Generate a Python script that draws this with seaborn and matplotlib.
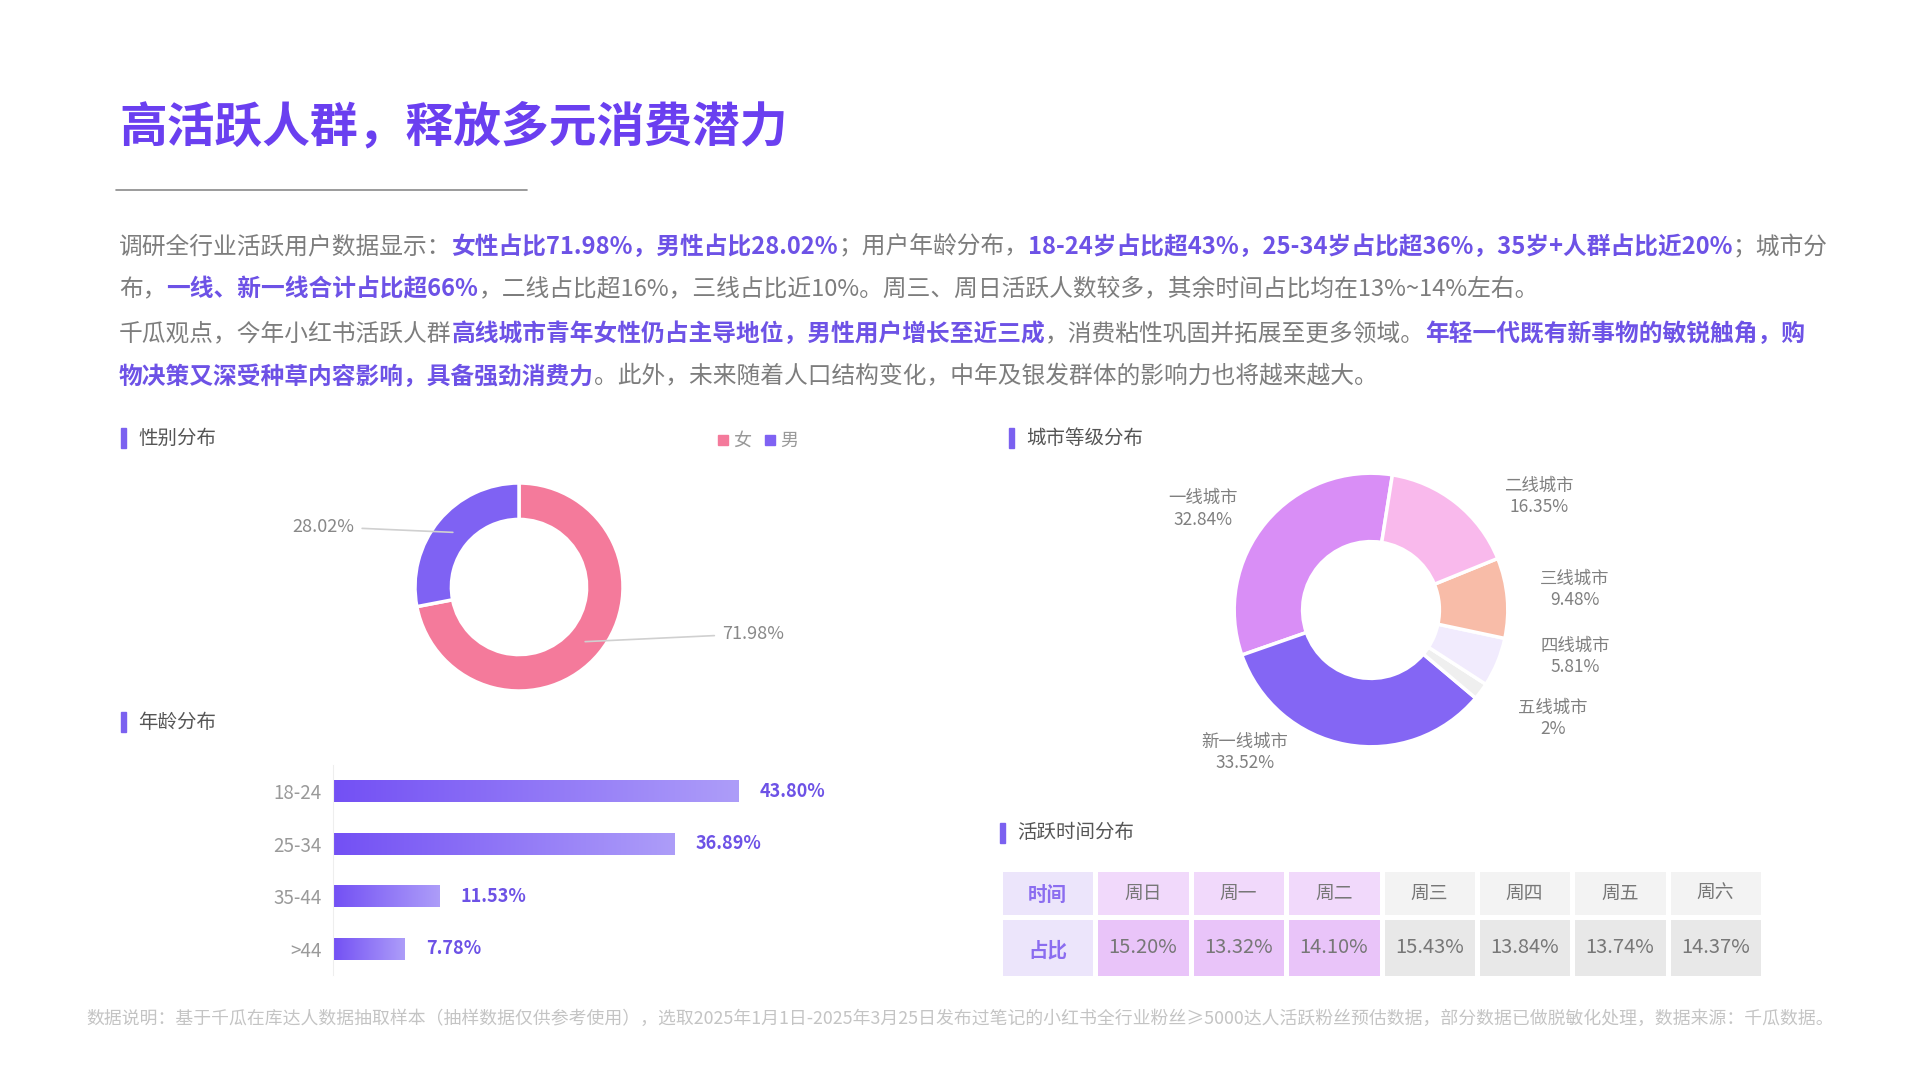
import numpy as np
import matplotlib
matplotlib.use("Agg")
import matplotlib.pyplot as plt
import seaborn as sns
from matplotlib.colors import ListedColormap, LinearSegmentedColormap
from matplotlib.lines import Line2D
from matplotlib.patches import Rectangle

# ---- data ----
gender_labels = ["女", "男"]
gender_values = [71.98, 28.02]

age_groups = ["18-24", "25-34", "35-44", ">44"]
age_values = [43.80, 36.89, 11.53, 7.78]

city_labels = ["一线城市", "新一线城市", "五线城市", "四线城市", "三线城市", "二线城市"]
city_values = [32.84, 33.52, 2, 5.81, 9.48, 16.35]

days = ["周日", "周一", "周二", "周三", "周四", "周五", "周六"]
day_values = [15.20, 13.32, 14.10, 15.43, 13.84, 13.74, 14.37]

# ---- style ----
sns.set_style("white")
plt.rcParams["font.family"] = ["Noto Sans CJK SC", "DejaVu Sans"]

PURPLE = "#6d52e6"
TITLE_PURPLE = "#6a3ff0"
GRAY = "#7d7d7d"

W, H = 1920, 1080
fig = plt.figure(figsize=(19.2, 10.8), dpi=100)
fig.patch.set_facecolor("white")
renderer = fig.canvas.get_renderer()


def fx(x):
    return x / W


def fy(y):
    return 1 - y / H


def add_ax(x0, y0, w, h):
    return fig.add_axes([x0 / W, 1 - (y0 + h) / H, w / W, h / H])


def text_width(s, size, weight="normal"):
    t = fig.text(0, 0, s, fontsize=size, fontweight=weight)
    w = t.get_window_extent(renderer).width
    t.remove()
    return w


def fit_size(s, width, weight="normal"):
    return 20 * width / text_width(s, 20, weight)


HL_WEIGHT = "bold"
TXT_WEIGHT = "normal"


def rich_line(x, y, segs, size):
    for txt, hl in segs:
        t = fig.text(fx(x), fy(y), txt, fontsize=size, va="center", ha="left",
                     color=PURPLE if hl else GRAY,
                     fontweight=HL_WEIGHT if hl else TXT_WEIGHT)
        x += t.get_window_extent(renderer).width


def section(x, y, label):
    fig.patches.append(Rectangle((fx(x), fy(y + 10)), 5 / W, 20 / H,
                                 transform=fig.transFigure, color="#7b61f0"))
    fig.text(fx(x + 17), fy(y), label, fontsize=14, color="#555555", va="center")


# ---- title ----
title = "高活跃人群，释放多元消费潜力"
fig.text(fx(119), fy(127), title, fontsize=fit_size(title, 668, "heavy"),
         fontweight="heavy", color=TITLE_PURPLE, va="center")
fig.add_artist(Line2D([fx(116), fx(527)], [fy(190), fy(190)], color="#8a8a8a", lw=1.2))

# ---- paragraph ----
lines = [
    [("调研全行业活跃用户数据显示：", False), ("女性占比71.98%，男性占比28.02%", True),
     ("；用户年龄分布，", False), ("18-24岁占比超43%，25-34岁占比超36%，35岁+人群占比近20%", True),
     ("；城市分", False)],
    [("布，", False), ("一线、新一线合计占比超66%", True),
     ("，二线占比超16%，三线占比近10%。周三、周日活跃人数较多，其余时间占比均在13%~14%左右。", False)],
    [("千瓜观点，今年小红书活跃人群", False), ("高线城市青年女性仍占主导地位，男性用户增长至近三成", True),
     ("，消费粘性巩固并拓展至更多领域。", False), ("年轻一代既有新事物的敏锐触角，购", True)],
    [("物决策又深受种草内容影响，具备强劲消费力", True),
     ("。此外，未来随着人口结构变化，中年及银发群体的影响力也将越来越大。", False)],
]
base = sum(text_width(t, 20, HL_WEIGHT if h else TXT_WEIGHT) for t, h in lines[0])
psize = 20 * 1706 / base
for ln, y in zip(lines, [247, 290, 334, 377]):
    rich_line(119, y, ln, psize)

# ---- section headers ----
section(121, 438, "性别分布")
section(121, 722, "年龄分布")
section(1009, 438, "城市等级分布")
section(1000, 833, "活跃时间分布")

# ---- gender donut ----
ax_g = add_ax(519 - 130, 587 - 130, 260, 260)
g_colors = ["#f47a9b", "#7f62f3"]
wedges, _ = ax_g.pie(gender_values, colors=g_colors, startangle=90, counterclock=False,
                     wedgeprops=dict(width=0.35, edgecolor="white", linewidth=2.5))
ax_g.set_xlim(-1.25, 1.25)
ax_g.set_ylim(-1.25, 1.25)
for w, v, (tx, ty, ha) in zip(wedges, gender_values, [(1.95, -0.45, "left"), (-1.58, 0.58, "right")]):
    ang = np.deg2rad((w.theta1 + w.theta2) / 2)
    ax_g.annotate(f"{v:.2f}%", xy=(0.825 * np.cos(ang), 0.825 * np.sin(ang)), xytext=(tx, ty),
                  ha=ha, va="center", fontsize=13, color="#888888",
                  arrowprops=dict(arrowstyle="-", color="#d0d0d0", lw=1.2, shrinkA=3, shrinkB=0))
handles = [Line2D([], [], marker="s", ls="", color=c, markersize=7) for c in g_colors]
fig.legend(handles, gender_labels, loc="center", bbox_to_anchor=(fx(757), fy(441)), ncol=2,
           frameon=False, fontsize=13, labelcolor="#999999", handletextpad=0.2,
           columnspacing=0.6, handlelength=0.8)

# ---- city donut ----
ax_c = add_ax(1371 - 171, 610 - 171, 342, 342)
c_colors = ["#d98ef6", "#8466f4", "#efefef", "#f1ebfd", "#f8bca8", "#f9b9ec"]
ax_c.pie(city_values, colors=c_colors, startangle=81, counterclock=True,
         wedgeprops=dict(width=0.5, edgecolor="white", linewidth=2.5))
ax_c.set_xlim(-1.25, 1.25)
ax_c.set_ylim(-1.25, 1.25)
label_pos = [(-1.23, 0.74), (-0.92, -1.04), (1.33, -0.79), (1.49, -0.34), (1.49, 0.15), (1.23, 0.83)]
for name, v, (lx, ly) in zip(city_labels, city_values, label_pos):
    ax_c.text(lx, ly, f"{name}\n{v:g}%", ha="center", va="center", fontsize=12.5,
              color="#808080", linespacing=1.25)

# ---- age bars ----
ax_a = add_ax(333, 765, 555, 210)
sns.barplot(x=age_values, y=age_groups, orient="h", ax=ax_a, width=0.42, color="#7b5cf5")
grad = np.linspace(0, 1, 256).reshape(1, -1)
bar_cmap = LinearSegmentedColormap.from_list("bar", ["#7350f4", "#ad9df9"])
for p in list(ax_a.patches):
    x0, y0, bw, bh = p.get_x(), p.get_y(), p.get_width(), p.get_height()
    im = ax_a.imshow(grad, cmap=bar_cmap, extent=[x0, x0 + bw, y0 + bh, y0],
                     aspect="auto", zorder=2, interpolation="bicubic")
    im.set_clip_path(p)
    p.set_facecolor("none")
    p.set_edgecolor("none")
for i, v in enumerate(age_values):
    ax_a.text(v + 2.3, i, f"{v:.2f}%", va="center", ha="left", fontsize=13,
              fontweight="bold", color=PURPLE)
ax_a.set_xlim(0, 60)
ax_a.set_ylim(3.5, -0.5)
ax_a.set_xlabel("")
ax_a.set_ylabel("")
ax_a.set_xticks([])
for s in ["top", "right", "bottom"]:
    ax_a.spines[s].set_visible(False)
ax_a.spines["left"].set_color("#eeeeee")
ax_a.tick_params(axis="y", length=0, pad=8, labelsize=13.5, labelcolor="#9a9a9a")

# ---- active time table ----
highlight = [True, True, True, False, False, False, False]
tab_cmap = ListedColormap(["#ece5fb", "#f1d9fb", "#f3f3f3", "#e9c4f9", "#e8e8e8"])
head_codes = np.array([[0] + [1 if h else 2 for h in highlight]])
val_codes = np.array([[0] + [3 if h else 4 for h in highlight]])
ax_h = add_ax(1000, 869, 763, 48)
ax_v = add_ax(1000, 917, 763, 61)
for axt, codes, first, cells, fs in [
    (ax_h, head_codes, "时间", days, 13.5),
    (ax_v, val_codes, "占比", [f"{v:.2f}%" for v in day_values], 14.5),
]:
    sns.heatmap(codes, ax=axt, cmap=tab_cmap, vmin=-0.5, vmax=4.5, cbar=False,
                linewidths=2.5, linecolor="white", xticklabels=False, yticklabels=False)
    axt.text(0.5, 0.55, first, ha="center", va="center", fontsize=14, fontweight="bold",
             color="#8b6df0")
    for j, c in enumerate(cells):
        axt.text(j + 1.5, 0.5, c, ha="center", va="center", fontsize=fs, color="#777777")

# ---- footer ----
note = ("数据说明：基于千瓜在库达人数据抽取样本（抽样数据仅供参考使用），选取2025年1月1日-2025年3月25日"
        "发布过笔记的小红书全行业粉丝≥5000达人活跃粉丝预估数据，部分数据已做脱敏化处理，数据来源：千瓜数据。")
fig.text(fx(960), fy(1019), note, fontsize=fit_size(note, 1743), color="#c4c4c4",
         ha="center", va="center")

fig.savefig("out.png", dpi=100, facecolor="white")
